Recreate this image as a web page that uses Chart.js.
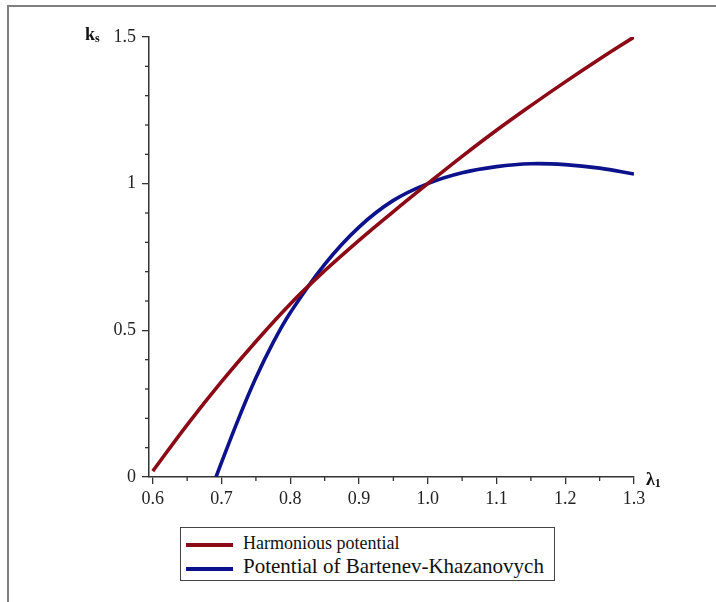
<!DOCTYPE html>
<html><head><meta charset="utf-8">
<script src="https://cdn.jsdelivr.net/npm/chart.js@4"></script>
<style>
html,body{margin:0;padding:0;background:#fff}
body{width:716px;height:602px;overflow:hidden;position:relative;font-family:"Liberation Serif","Times New Roman",serif}
#frame{position:absolute;left:7px;top:5px;width:780px;height:700px;border-top:2px solid #7f7f7f;border-left:2px solid #7f7f7f}
#wrap{position:absolute;left:0;top:0;width:716px;height:602px}
.ttl{position:absolute;font-weight:bold;font-size:18px;line-height:18px;color:#111;white-space:nowrap}
.ttl sub{font-size:12px;vertical-align:-2px}
#legend{position:absolute;left:180px;top:527px;width:373px;height:52px;border:1.5px solid #444;background:#fff}
.lg{position:absolute;left:62px;white-space:nowrap;color:#111}
.sw{position:absolute;left:5px;width:47px;height:4px}
</style></head>
<body>
<div id="frame"></div>
<div id="wrap"><canvas id="c" width="716" height="602"></canvas></div>
<div class="ttl" style="left:85px;top:25px">k<sub>s</sub></div>
<div class="ttl" style="left:646px;top:470px">λ<sub>1</sub></div>
<div id="legend"></div>
<script>
// ---- data ----
const seriesNames = ["Harmonious potential", "Potential of Bartenev-Khazanovych"];
const lambdaHarm = [0.60,0.65,0.70,0.75,0.80,0.85,0.90,0.95,1.00,1.05,1.10,1.15,1.20,1.25,1.30];
const kHarm      = [0.02,0.178,0.325,0.462,0.59,0.703,0.807,0.905,1.00,1.093,1.182,1.266,1.347,1.425,1.50];
const lambdaBK   = [0.692,0.70,0.725,0.75,0.775,0.80,0.85,0.90,0.95,1.00,1.05,1.10,1.15,1.20,1.25,1.30];
const kBK        = [0.0,0.05,0.20,0.338,0.458,0.56,0.725,0.852,0.943,1.00,1.037,1.058,1.068,1.065,1.053,1.033];
const xTicks      = [0.6,0.7,0.8,0.9,1.0,1.1,1.2,1.3];
const xTickLabels = ["0.6","0.7","0.8","0.9","1.0","1.1","1.2","1.3"];
const xMinor      = [0.65,0.75,0.85,0.95,1.05,1.15,1.25];
const yTicks      = [0,0.5,1,1.5];
const yTickLabels = ["0","0.5","1","1.5"];
const yMinor      = [0.1,0.2,0.3,0.4,0.6,0.7,0.8,0.9,1.1,1.2,1.3,1.4];

const colors = ["#8c0a16", "#0c128c"];
const axisColor = "#333";
const tickFont = {family:"'Liberation Serif'", size:18};

const minorTicks = {
  id:'minorTicks',
  afterDraw(c){
    const ctx=c.ctx, xs=c.scales.x, ys=c.scales.y;
    ctx.save();
    ctx.strokeStyle=axisColor; ctx.lineWidth=1.3;
    xMinor.forEach(v=>{const p=xs.getPixelForValue(v);ctx.beginPath();ctx.moveTo(p,ys.bottom);ctx.lineTo(p,ys.bottom+4);ctx.stroke();});
    yMinor.forEach(v=>{const p=ys.getPixelForValue(v);ctx.beginPath();ctx.moveTo(xs.left,p);ctx.lineTo(xs.left-4,p);ctx.stroke();});
    ctx.restore();
  }
};

const chart = new Chart(document.getElementById('c'), {
  type:'line',
  data:{datasets:[
    {label:seriesNames[0], data:lambdaHarm.map((x,i)=>({x, y:kHarm[i]})), borderColor:colors[0], borderWidth:3.6, pointRadius:0, tension:0.4, fill:false},
    {label:seriesNames[1], data:lambdaBK.map((x,i)=>({x, y:kBK[i]})), borderColor:colors[1], borderWidth:3.6, pointRadius:0, tension:0.4, fill:false}
  ]},
  options:{
    responsive:false, animation:false, devicePixelRatio:1,
    layout:{padding:{left:0, top:37, right:82, bottom:0}},
    plugins:{legend:{display:false}, tooltip:{enabled:false}},
    scales:{
      x:{type:'linear', min:0.5945, max:1.3,
         afterBuildTicks:s=>{s.ticks=xTicks.map(v=>({value:v}));},
         afterFit:s=>{s.height=125;},
         ticks:{callback:(v,i)=>xTickLabels[i], font:tickFont, color:'#222', padding:4, maxRotation:0, autoSkip:false},
         grid:{drawOnChartArea:false, tickLength:7, color:axisColor, lineWidth:1.3},
         border:{color:axisColor, width:1.5}},
      y:{type:'linear', min:0, max:1.5,
         afterBuildTicks:s=>{s.ticks=yTicks.map(v=>({value:v}));},
         afterFit:s=>{s.width=149;},
         ticks:{callback:(v,i)=>yTickLabels[i], font:tickFont, color:'#222', padding:6, autoSkip:false},
         grid:{drawOnChartArea:false, tickLength:7, color:axisColor, lineWidth:1.3},
         border:{color:axisColor, width:1.5}}
    }
  },
  plugins:[minorTicks]
});

// HTML legend built from the datasets
const lg=document.getElementById('legend');
const rows=[{top:17,size:18},{top:41,size:21}];
chart.data.datasets.forEach((d,i)=>{
  const sw=document.createElement('div'); sw.className='sw';
  sw.style.top=(rows[i].top-2)+'px'; sw.style.background=d.borderColor; lg.appendChild(sw);
  const t=document.createElement('div'); t.className='lg';
  t.style.fontSize=rows[i].size+'px'; t.style.lineHeight=rows[i].size+'px';
  t.style.top=(rows[i].top-rows[i].size*0.62)+'px'; t.textContent=d.label; lg.appendChild(t);
});
</script>
</body></html>
